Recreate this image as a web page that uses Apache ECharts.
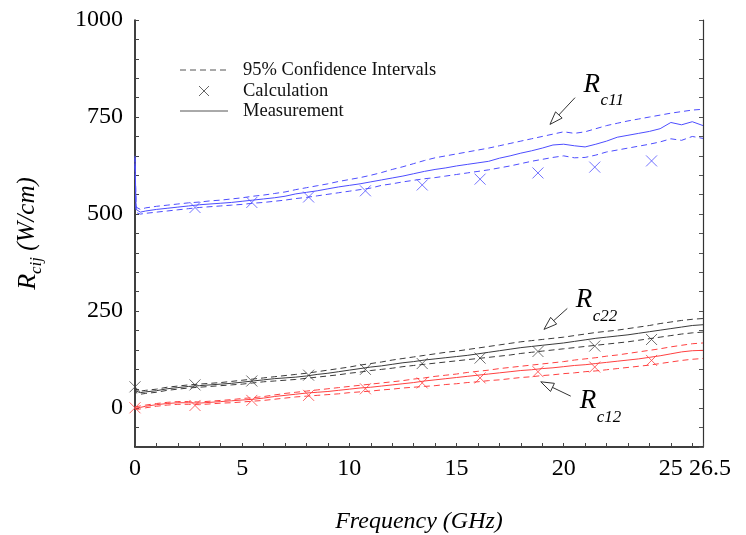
<!DOCTYPE html>
<html><head><meta charset="utf-8">
<script src="https://cdn.jsdelivr.net/npm/echarts/dist/echarts.min.js"></script>
<style>html,body{margin:0;padding:0;background:#fff}#c{width:746px;height:535px}</style>
</head><body><div id="c"></div>
<script>
// ---- data ----
const freq = [0,0.05,0.25,0.5,1,1.5,2,2.5,3,3.5,4,4.5,5,5.5,6,6.5,7,7.5,8,8.5,9,9.5,10,10.5,11,11.5,12,12.5,13,13.5,14,14.5,15,15.5,16,16.5,17,17.5,18,18.5,19,19.5,20,20.5,21,21.5,22,22.5,23,23.5,24,24.5,25,25.5,26,26.5];

const rc11Meas = [645,512,505, 508,512,515,518,521,524,526,528,530,533, 536,539,542,546,552,556,560,565,570,574, 578,583,588,593,598,604,610,615,619,624, 628,632,636,644,650,657,663,670,678,680, 676,673,680,688,698,703,708,713,720,736, 730,738,728];
const rc11Upper = [650,518,512, 516,520,523,526,529,531,534,536,539,542, 546,549,553,557,563,568,573,578,584,589, 594,600,607,615,622,630,638,645,650,655, 660,665,670,676,682,688,694,700,706,712, 708,712,720,728,734,740,745,750,755,760, 764,768,770];
const rc11Lower = [630,504,500, 502,505,508,511,514,517,519,521,523,525, 528,530,533,536,540,543,547,551,555,559, 563,567,574,578,583,587,591,594,598,602, 606,610,614,619,624,630,636,641,646,650, 645,646,652,660,665,670,675,680,686,694, 690,700,695];

const rc22Meas = [55,44,40, 42,45,50,53,56,58,60,62,64,67, 70,73,76,78,80,83,87,90,94,98, 102,106,109,113,117,120,124,127,130,133, 136,140,144,148,152,156,159,162,165,168, 172,176,180,183,186,189,193,197,201,205, 209,213,215];
const rc22Upper = [58,48,44, 46,49,54,57,60,62,64,66,69,72, 75,78,81,84,87,90,94,98,102,106, 111,115,119,124,128,132,136,140,144,147, 151,155,159,163,167,171,174,177,180,183, 187,191,195,198,201,205,209,213,218,222, 226,229,231];
const rc22Lower = [52,40,36, 38,41,46,49,52,54,56,58,60,62, 65,68,70,72,74,77,80,83,86,90, 93,97,100,103,107,110,113,116,119,122, 125,128,131,134,137,141,144,147,150,153, 156,159,162,165,168,171,175,179,183,187, 191,194,196];

const rc12Meas = [0,1,2, 5,9,12,14,14,13,15,17,19,21, 23,26,30,33,36,39,41,43,46,49, 52,54,57,60,63,66,70,73,76,79, 82,85,88,91,94,97,99,102,104,107, 110,112,115,118,121,124,127,131,135,140, 145,148,149];
const rc12Upper = [3,4,6, 8,12,15,17,17,16,18,20,22,25, 27,30,34,38,41,44,47,50,53,56, 59,62,65,68,71,75,78,82,85,88, 92,95,98,102,105,108,111,114,117,120, 124,127,130,134,137,141,145,149,153,158, 162,166,168];
const rc12Lower = [-3,-3,-2, 1,5,8,10,10,9,11,13,14,16, 18,20,23,26,29,31,33,35,37,40, 42,44,47,49,52,54,56,58,61,63, 66,68,71,73,76,79,81,84,86,89, 91,94,96,99,102,105,108,111,115,119, 123,126,128];

const calcFreq = [0,2.8,5.45,8.1,10.75,13.4,16.1,18.8,21.45,24.1];
const rc11Calc = [null,517,530,544,560,575,590,606,621,637];
const rc22Calc = [55,60,70,85,100,115,129,146,160,177];
const rc12Calc = [1,7,20,33,50,65,78,94,106,123];

const xTickLabels = [0,5,10,15,20,25,26.5];
const yTickLabels = [0,250,500,750,1000];
const legendLabels = ['95% Confidence Intervals','Calculation','Measurement'];

// ---- build ----
const SERIF = '"Liberation Serif","Times New Roman",serif';
const BLUE = '#4d4dff', RED = '#ff4040', GRAY = '#3a3a3a';
const pairs = (xs, ys) => xs.map((x,i)=>[x, ys[i]]).filter(p => p[1] !== null);

function lineSeries(ys, color, dashed){
  return {type:'line', data:pairs(freq, ys), symbol:'none', silent:true, animation:false,
    lineStyle:{color, width:1, type: dashed ? [6,4] : 'solid'}};
}
function calcSeries(ys, color){
  return {type:'scatter', data:pairs(calcFreq, ys), symbol:'path://M0,0L10,10M10,0L0,10',
    symbolSize:11, silent:true, animation:false,
    itemStyle:{color:'none', borderColor:color, borderWidth:1, opacity:0.85}};
}

const chart = echarts.init(document.getElementById('c'), null, {renderer:'canvas'});
const axisFont = {fontFamily:SERIF, fontSize:24, color:'#000'};
chart.setOption({
  animation:false,
  grid:{left:135, right:43, top:20, bottom:88, containLabel:false, outerBoundsMode:'none'},
  xAxis:{type:'value', min:0, max:26.5, interval:1,
    name:'Frequency (GHz)', nameLocation:'middle', nameGap:63,
    nameTextStyle:{fontFamily:SERIF, fontStyle:'italic', fontSize:24, color:'#000'},
    axisLine:{onZero:false, lineStyle:{color:'#000', width:1.5}},
    axisTick:{inside:true, length:4, lineStyle:{color:'#444'}},
    axisLabel:{...axisFont, margin:10, showMaxLabel:true, showMinLabel:true,
      formatter:v => Math.abs(v - 26.5) < 1e-6 ? '{r|26.5}' :
        (xTickLabels.some(t => Math.abs(t - v) < 1e-6) ? String(v) : ''),
      rich:{r:{fontFamily:SERIF, fontSize:24, color:'#000', padding:[0,0,0,14]}}},
    splitLine:{show:false}},
  yAxis:[{type:'value', min:-100, max:1000, interval:50,
    name:'{a|R}{b|cij}{c| (W/cm)}', nameLocation:'middle', nameGap:90, nameRotate:90,
    nameTextStyle:{color:'#000', rich:{
      a:{fontFamily:SERIF, fontStyle:'italic', fontSize:26, lineHeight:30, verticalAlign:'top'},
      b:{fontFamily:SERIF, fontStyle:'italic', fontSize:17, lineHeight:30, padding:[14,0,0,0], verticalAlign:'bottom'},
      c:{fontFamily:SERIF, fontStyle:'italic', fontSize:25, lineHeight:30, verticalAlign:'top'}}},
    axisLine:{show:true, onZero:false, lineStyle:{color:'#000', width:1.5}},
    axisTick:{inside:true, length:4, lineStyle:{color:'#444'}},
    axisLabel:{...axisFont, margin:12,
      formatter:v => yTickLabels.includes(v) ? String(v) : ''},
    splitLine:{show:false}},
   {type:'value', position:'right', min:-100, max:1000, interval:50,
    axisLine:{show:true, onZero:false, lineStyle:{color:'#333', width:1.2}},
    axisTick:{inside:true, length:4, lineStyle:{color:'#555'}},
    axisLabel:{show:false}, splitLine:{show:false}}],
  series:[
    lineSeries(rc11Upper, BLUE, true), lineSeries(rc11Lower, BLUE, true), lineSeries(rc11Meas, BLUE, false),
    lineSeries(rc22Upper, GRAY, true), lineSeries(rc22Lower, GRAY, true), lineSeries(rc22Meas, GRAY, false),
    lineSeries(rc12Upper, RED, true), lineSeries(rc12Lower, RED, true), lineSeries(rc12Meas, RED, false),
    calcSeries(rc11Calc, '#5a5aff'), calcSeries(rc22Calc, '#555'), calcSeries(rc12Calc, '#ff4a4a')
  ]
});

// ---- annotations & legend ----
const annotations = [
  {sub:'c11', textAt:[20.93,868], from:[20.53,800], to:[19.36,731]},
  {sub:'c22', textAt:[20.56,313], from:[20.17,257], to:[19.08,203]},
  {sub:'c12', textAt:[20.75,53],  from:[20.33,31],  to:[18.93,68]}
];
const px = p => chart.convertToPixel({gridIndex:0}, p);
const g = [];
annotations.forEach(a => {
  const t = px(a.textAt);
  g.push({type:'text', x:t[0], y:t[1], silent:true,
    style:{text:'R', font:'italic 27px '+SERIF, fill:'#000', verticalAlign:'top', align:'left'}});
  g.push({type:'text', x:t[0]+17, y:t[1]+21, silent:true,
    style:{text:a.sub, font:'italic 17px '+SERIF, fill:'#000', verticalAlign:'top', align:'left'}});
  const f = px(a.from), e = px(a.to);
  const dx = e[0]-f[0], dy = e[1]-f[1], L = Math.hypot(dx,dy), ux = dx/L, uy = dy/L;
  const hl = 13, hw = 4.5, bx = e[0]-ux*hl, by = e[1]-uy*hl;
  g.push({type:'line', silent:true, shape:{x1:f[0], y1:f[1], x2:bx+ux*4, y2:by+uy*4}, style:{stroke:'#333', lineWidth:1}});
  g.push({type:'polygon', silent:true, shape:{points:[[e[0],e[1]],[bx-uy*hw, by+ux*hw],[bx+uy*hw, by-ux*hw]]},
    style:{fill:'#fff', stroke:'#333', lineWidth:1}});
});
// legend
const LX = 180, LW = 48, TX = 243, rows = [70, 91, 111];
g.push({type:'line', silent:true, shape:{x1:LX, y1:rows[0], x2:LX+LW, y2:rows[0]}, style:{stroke:'#555', lineWidth:1, lineDash:[6,4]}});
g.push({type:'line', silent:true, shape:{x1:LX+LW/2-5, y1:rows[1]-5, x2:LX+LW/2+5, y2:rows[1]+5}, style:{stroke:'#666', lineWidth:1}});
g.push({type:'line', silent:true, shape:{x1:LX+LW/2+5, y1:rows[1]-5, x2:LX+LW/2-5, y2:rows[1]+5}, style:{stroke:'#666', lineWidth:1}});
g.push({type:'line', silent:true, shape:{x1:LX, y1:rows[2], x2:LX+LW, y2:rows[2]}, style:{stroke:'#555', lineWidth:1}});
legendLabels.forEach((s,i) => g.push({type:'text', x:TX, y:rows[i], silent:true,
  style:{text:s, font:'18.5px '+SERIF, fill:'#111', verticalAlign:'middle', align:'left'}}));
chart.setOption({graphic:g});
</script></body></html>
